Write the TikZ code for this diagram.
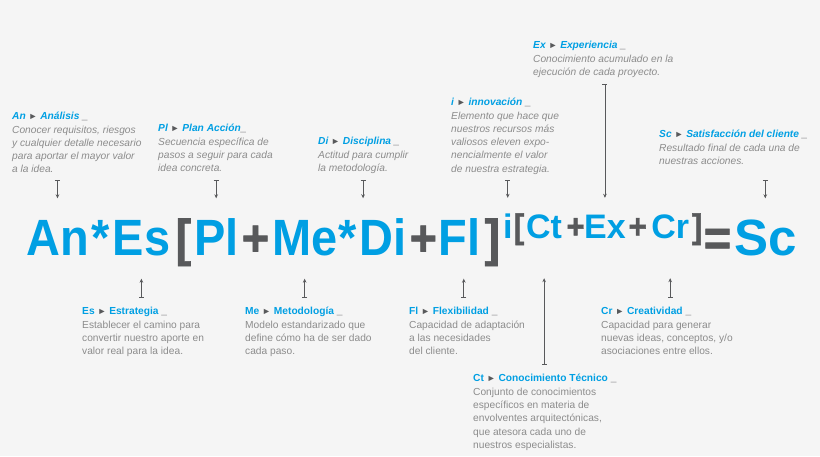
\documentclass[tikz,border=0pt]{standalone}
\usepackage{fontspec}
\setmainfont{Liberation Sans}
\newfontfamily\formfont[FakeStretch=0.92]{Liberation Sans}
\newfontfamily\signfont[FakeStretch=0.92, FakeBold=1.2]{Liberation Sans}
\usetikzlibrary{positioning, arrows.meta}
\definecolor{ablue}{HTML}{009FE3}
\definecolor{agray}{HTML}{58595B}
\definecolor{tgray}{HTML}{8C8C8C}
\definecolor{bgray}{HTML}{F5F5F5}

\tikzset{
  term/.style={text=ablue, inner sep=0pt, text height=57pt, text depth=23pt,
    font=\formfont\bfseries\fontsize{51}{51}\selectfont},
  sign/.style={term, text=agray, font=\signfont\bfseries\fontsize{51}{51}\selectfont},
  supterm/.style={text=ablue, inner sep=0pt, text height=40pt, text depth=40pt,
    font=\bfseries\fontsize{34}{34}\selectfont},
  supsign/.style={supterm, text=agray, font=\signfont\bfseries\fontsize{34}{34}\selectfont},
  note/.style={anchor=north west, inner sep=0pt, align=left, text=tgray,
    font=\itshape\fontsize{10.2}{13.3}\selectfont},
  notebot/.style={note, font=\upshape\fontsize{10.2}{13.3}\selectfont},
  pointer/.style={draw=agray, line width=0.7pt,
    {Bar[width=5pt]}-{Stealth[length=4pt,width=3.6pt]}, shorten <=#1},
  pointer/.default=8pt
}
\newcommand{\tri}{{\fontsize{9}{9}\selectfont\color{agray}►}}
\newcommand{\head}[2]{\strut\textcolor{ablue}{\bfseries #1}~\tri~\textcolor{ablue}{\bfseries #2}}
\newcommand{\under}{\textcolor{agray}{\bfseries\_}}

\begin{document}
\begin{tikzpicture}[x=1pt, y=-1pt]
\fill[bgray] (0,0) rectangle (820,456);

% formula
\node[term, anchor=base west] (An) at (26,255.5) {An};
\node[term, base right=2.6pt of An] (mulA) {*};
\node[term, base right=2.3pt of mulA] (Es) {Es};
\node[sign, base right=5pt of Es] (lbr) {[};
\node[term, base right=2.5pt of lbr] (Pl) {Pl};
\node[sign, base right=3pt of Pl] (plusA) {+};
\node[term, base right=2.5pt of plusA] (Me) {Me};
\node[term, base right=1.2pt of Me] (mulB) {*};
\node[term, base right=1.8pt of mulB] (Di) {Di};
\node[sign, base right=3pt of Di] (plusB) {+};
\node[term, base right=1.5pt of plusB] (Fl) {Fl};
\node[sign, base right=3.5pt of Fl] (rbr) {]};
\node[supterm, base right=2.5pt of rbr, yshift=17.5pt] (i) {i};
\node[supsign, base right=1pt of i] (lbrs) {[};
\node[supterm, base right=1.5pt of lbrs] (Ct) {Ct};
\node[supsign, base right=4pt of Ct] (plusC) {+};
\node[supterm, base right=-1pt of plusC] (Ex) {Ex};
\node[supsign, base right=2.5pt of Ex] (plusD) {+};
\node[supterm, base right=4pt of plusD] (Cr) {Cr};
\node[supsign, base right=2.5pt of Cr] (rbrs) {]};
\node[sign, base right=1pt of rbrs, yshift=-17.5pt] (eq) {=};
\node[term, font=\bfseries\fontsize{51}{51}\selectfont, base right=2.5pt of eq] (Sc) {Sc};

% notes above
\node[note] (tAn) at (12,110.2) {\head{An}{Análisis} \under\\
  Conocer requisitos, riesgos\\ y cualquier detalle necesario\\
  para aportar el mayor valor\\ a la idea.};
\node[note] (tPl) at (158,122.2) {\head{Pl}{Plan Acción}\under\\
  Secuencia específica de\\ pasos a seguir para cada\\ idea concreta.};
\node[note] (tDi) at (318,135.2) {\head{Di}{Disciplina} \under\\
  Actitud para cumplir\\ la metodología.};
\node[note] (ti) at (451,96.2) {\head{i}{innovación} \under\\
  Elemento que hace que\\ nuestros recursos más\\ valiosos eleven expo-\\
  nencialmente el valor\\ de nuestra estrategia.};
\node[note] (tEx) at (533,39.2) {\head{Ex}{Experiencia} \under\\
  Conocimiento acumulado en la\\ ejecución de cada proyecto.};
\node[note] (tSc) at (659,128.2) {\head{Sc}{Satisfacción del cliente} \under\\
  Resultado final de cada una de\\ nuestras acciones.};

% notes below
\node[notebot] (tEs) at (82,305.2) {\head{Es}{Estrategia} \under\\
  Establecer el camino para\\ convertir nuestro aporte en\\ valor real para la idea.};
\node[notebot] (tMe) at (245,305.2) {\head{Me}{Metodología} \under\\
  Modelo estandarizado que\\ define cómo ha de ser dado\\ cada paso.};
\node[notebot] (tFl) at (409,305.2) {\head{Fl}{Flexibilidad} \under\\
  Capacidad de adaptación\\ a las necesidades\\ del cliente.};
\node[notebot] (tCt) at (473,372.4) {\head{Ct}{Conocimiento Técnico} \under\\
  Conjunto de conocimientos\\ específicos en materia de\\ envolventes arquitectónicas,\\
  que atesora cada uno de\\ nuestros especialistas.};
\node[notebot] (tCr) at (601,305.2) {\head{Cr}{Creatividad} \under\\
  Capacidad para generar\\ nuevas ideas, conceptos, y/o\\ asociaciones entre ellos.};

\coordinate (DiA) at ([xshift=4pt]Di.north west);
\coordinate (FlA) at ([xshift=4pt]Fl.south);

\draw[pointer=6.8pt] (tAn.south -| An.north) -- (An.north);
\draw[pointer=8.1pt] (tPl.south -| Pl.north) -- (Pl.north);
\draw[pointer=6.3pt] (tDi.south -| DiA) -- (DiA);
\draw[pointer=5.4pt] (ti.south -| i.north) -- (i.north);
\draw[pointer=6.8pt] (tEx.south -| Ex.north) -- (Ex.north);
\draw[pointer=15.4pt] (tSc.south -| Sc.north) -- (Sc.north);

\draw[pointer] (tEs.north -| Es.south) -- (Es.south);
\draw[pointer] (tMe.north -| Me.south) -- (Me.south);
\draw[pointer] (tFl.north -| FlA) -- (FlA);
\draw[pointer] (tCt.north -| Ct.south) -- (Ct.south);
\draw[pointer] (tCr.north -| Cr.south) -- (Cr.south);
\end{tikzpicture}
\end{document}
